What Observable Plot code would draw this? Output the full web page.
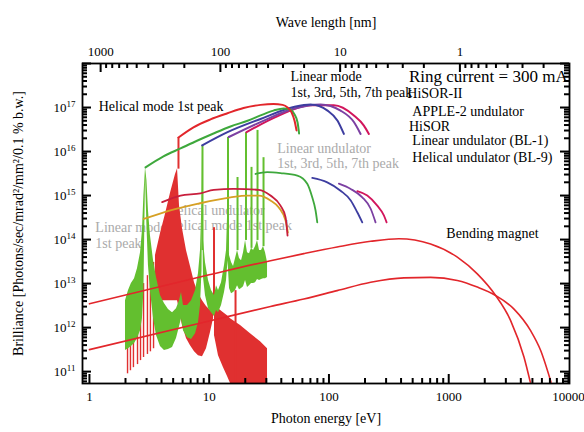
<!DOCTYPE html>
<html><head><meta charset="utf-8">
<script src="https://cdn.jsdelivr.net/npm/d3@7"></script>
<script src="https://cdn.jsdelivr.net/npm/@observablehq/plot@0.6"></script>
<style>body{margin:0;background:#fff;} #chart svg{display:block;}</style>
</head><body><div id="chart"></div>
<script>
// ---------- data (photon energy in eV, brilliance as log10) ----------
const hc = 1239.84; // eV*nm
// Bending magnet
const bmUpperE = [1, 10, 32.5, 61.7, 117, 223, 384, 706, 1180, 1733, 2464, 3289, 4250, 4800];
const bmUpperLog = [12.54, 13.20, 13.52, 13.68, 13.83, 13.96, 14.02, 13.90, 13.60, 13.22, 12.73, 12.16, 11.33, 10.76];
const bmLowerE = [1, 10, 32.5, 61.7, 117, 223, 423, 706, 1180, 1733, 2464, 3510, 4830, 5860, 7150];
const bmLowerLog = [11.50, 12.15, 12.48, 12.65, 12.84, 13.03, 13.13, 13.14, 13.07, 12.92, 12.73, 12.42, 11.93, 11.48, 10.76];
// HiSOR-II APPLE-2 undulator envelopes
const h2HelE = [5.54, 7.39, 10.25, 14.22, 19.35, 26.83, 34.4, 41.0, 45.1, 48.7, 51.6, 53.6];
const h2HelLog = [16.32, 16.55, 16.73, 16.87, 16.99, 17.06, 17.08, 17.06, 17.0, 16.89, 16.70, 16.48];
const h2Lin1E = [2.94, 4.15, 5.76, 7.99, 10.87, 15.07, 20.9, 26.83, 34.4, 41.8, 47.8, 51.6, 54.7, 56.3];
const h2Lin1Log = [15.64, 15.89, 16.07, 16.25, 16.41, 16.57, 16.70, 16.82, 16.93, 16.98, 16.95, 16.84, 16.66, 16.41];
const h2Lin3E = [8.74, 14.22, 26.83, 50.6, 70.2, 97.3, 118, 133.2];
const h2Lin3Log = [16.14, 16.44, 16.74, 17.01, 17.07, 16.93, 16.70, 16.40];
const h2Lin5E = [14.58, 26.83, 50.6, 85.1, 125, 161.5, 183.7];
const h2Lin5Log = [16.33, 16.67, 16.97, 17.07, 16.93, 16.67, 16.40];
const h2Lin7E = [20.5, 37.0, 70.2, 109.9, 161.5, 195.7, 215.4];
const h2Lin7Log = [16.44, 16.80, 17.05, 17.05, 16.82, 16.59, 16.40];
// HiSOR linear undulator (BL-1)
const bl1n1E = [24.37, 30.5, 39.4, 54.4, 65.9, 72.5, 77.3, 79.9];
const bl1n1Log = [15.49, 15.53, 15.51, 15.455, 15.27, 14.96, 14.66, 14.39];
const bl1n3E = [72.5, 96.8, 125, 152, 172.4, 189.8];
const bl1n3Log = [15.40, 15.30, 15.11, 14.89, 14.62, 14.39];
const bl1n5E = [121, 152, 189.8, 223, 245];
const bl1n5Log = [15.27, 15.15, 14.96, 14.70, 14.39];
const bl1n7E = [172.4, 208.9, 253.2, 287.5, 303];
const bl1n7Log = [15.10, 15.0, 14.77, 14.55, 14.39];
// HiSOR helical undulator (BL-9)
const bl9aE = [4.05, 5.76, 8.46, 10.93, 16.05, 25.97, 32.5, 39.4, 43.4, 45.1];
const bl9aLog = [14.85, 15.0, 15.05, 15.13, 15.15, 15.13, 15.0, 14.77, 14.51, 14.09];
const bl9bE = [2.84, 4.18, 7.94, 15.07, 20.8, 25.97, 32.5, 38.1, 43.4, 45.4];
const bl9bLog = [14.47, 14.62, 14.81, 14.96, 15.0, 15.0, 14.89, 14.73, 14.43, 14.16];
// Linear mode spectrum (band between lower and upper edge) and harmonic spikes
const linSpecE = [2.00, 2.12, 2.24, 2.38, 2.52, 2.67, 2.77, 2.85, 2.94, 3.02, 3.11, 3.23, 3.43, 3.63, 3.92, 4.23, 4.57, 4.94, 5.33, 5.65, 5.87, 6.10, 6.59, 7.12, 7.69, 8.14, 8.46, 8.71, 8.79, 8.96, 9.31, 9.87, 10.45, 11.07, 11.51, 11.96, 12.67, 13.42, 13.95, 14.36, 14.78, 15.36, 15.96, 16.59, 17.24, 17.91, 18.62, 19.35, 20.11, 20.89, 21.71, 22.56, 23.45, 24.37, 25.32, 26.32, 27.35, 28.42, 29.53, 30.69];
const linSpecLo = [11.48, 11.52, 11.57, 11.64, 11.75, 11.93, 12.20, 12.84, 15.45, 14.32, 13.41, 12.84, 12.20, 11.82, 11.57, 11.48, 11.50, 11.55, 11.75, 12.02, 12.20, 11.93, 11.77, 11.73, 11.86, 12.11, 12.50, 13.30, 14.89, 13.14, 12.73, 12.43, 12.34, 12.25, 12.39, 12.34, 12.50, 12.80, 13.07, 13.52, 12.89, 12.77, 12.80, 12.84, 12.95, 12.86, 12.89, 12.93, 13.07, 12.91, 12.95, 13.0, 13.0, 13.02, 13.09, 13.07, 13.09, 13.11, 13.11, 13.14];
const linSpecHi = [12.61, 12.84, 13.0, 13.11, 13.34, 13.70, 14.20, 15.0, 15.64, 15.34, 14.66, 14.09, 13.52, 13.14, 12.73, 12.55, 12.41, 12.34, 12.43, 12.61, 12.80, 12.50, 12.50, 12.61, 12.84, 13.23, 13.75, 14.89, 16.02, 13.98, 13.48, 13.07, 12.84, 12.73, 12.95, 12.84, 13.02, 13.41, 13.75, 14.89, 13.64, 13.48, 13.39, 13.57, 13.75, 13.57, 13.52, 13.70, 13.98, 13.70, 13.68, 13.80, 13.75, 13.84, 13.98, 13.75, 13.75, 13.84, 13.70, 13.48];
const linSpikeE = [8.79, 14.36, 17.24, 20.3, 22.56, 25.32, 28.42];
const linSpikeBase = [13.75, 13.75, 13.75, 13.98, 13.80, 13.98, 13.84];
const linSpikeTop = [16.14, 16.32, 15.41, 16.43, 15.64, 16.48, 15.86];
// Helical mode spectrum
const helCombE = [2.08, 2.20, 2.33, 2.52, 2.67, 2.83, 3.05, 3.23, 3.43];
const helCombLo = [10.95, 11.02, 11.09, 11.16, 11.25, 11.32, 11.39, 11.45, 11.52];
const helCombHi = [11.77, 12.05, 12.27, 12.50, 12.77, 13.0, 13.18, 13.34, 13.48];
const helMainE = [3.56, 3.92, 4.31, 4.75, 5.23, 5.44, 5.65, 5.98, 6.46, 6.98, 7.54, 8.14, 8.79, 9.49, 10.25, 10.87];
const helMainLo = [12.61, 12.61, 12.61, 12.61, 12.61, 12.61, 12.39, 12.05, 11.75, 11.59, 11.45, 11.36, 11.34, 11.52, 11.89, 12.20];
const helMainHi = [13.64, 14.14, 14.57, 15.05, 15.48, 15.61, 14.77, 14.25, 13.75, 13.39, 13.02, 12.77, 12.61, 12.48, 12.39, 12.34];
const helTailE = [11.07, 11.96, 13.17, 14.22, 15.07, 18.26, 22.13, 26.83, 30.69];
const helTailLo = [11.82, 11.36, 11.09, 10.89, 10.73, 10.73, 10.73, 10.73, 10.73];
const helTailHi = [12.50, 12.43, 12.34, 12.27, 12.20, 12.05, 11.86, 11.68, 11.52];
const helSpikeE = [5.54, 10.97, 16.59];
const helSpikeBase = [15.6, 12.27, 10.73];
const helSpikeTop = [16.32, 14.27, 12.84];
// tick values
const xMajor = [1, 10, 100, 1000, 10000];
const waveMajor = [1000, 100, 10, 1];
const yMajor = [1e11, 1e12, 1e13, 1e14, 1e15, 1e16, 1e17, 1e18];

// ---------- tables ----------
const line = (E, L) => E.map((e, i) => ({E: e, B: 10 ** L[i]}));
const band = (E, lo, hi) => E.map((e, i) => ({E: e, lo: 10 ** lo[i], hi: 10 ** hi[i]}));
const xMinor = [], waveMinor = [], yMinor = [];
for (const d of [1, 10, 100, 1000]) for (let k = 2; k < 10; k++) xMinor.push(d * k);
for (const d of [100, 10, 1, 0.1]) for (let k = 2; k < 10; k++) waveMinor.push(d * k);
for (let p = 10; p < 18; p++) for (let k = 2; k < 10; k++) { const v = k * 10 ** p; if (v > 5.5e10) yMinor.push(v); }

const W = 584, H = 432, ML = 82, MR = 15, MT = 63, MB = 49;
const FW = W - ML - MR, FH = H - MT - MB;
const xDom = [0.875, 10200], yDom = [5.37e10, 1e18];
const RED = "#e2262b", GREEN = "#3ea83c", SPECG = "#63bf2f", GRAY = "#aaaaaa";
const lineOpts = (stroke, w = 2) => ({x: "E", y: "B", stroke, strokeWidth: w, curve: "monotone-x"});
const ann = (t, E, L, o = {}) => Plot.text([t], {x: () => E, y: () => 10 ** L, text: d => d, textAnchor: "start", fontSize: 13, fill: "#000", ...o});
const waveMajorE = waveMajor.map(l => hc / l), waveMinorE = waveMinor.map(l => hc / l);
const tk = {stroke: "#000", strokeWidth: 2, strokeOpacity: 1};

const chart = Plot.plot({
  width: W, height: H,
  marginLeft: ML, marginRight: MR, marginTop: MT, marginBottom: MB,
  style: {fontFamily: "'Liberation Serif', serif", fontSize: "13px", background: "#fff", color: "#000"},
  x: {type: "log", domain: xDom},
  y: {type: "log", domain: yDom},
  marks: [
    // gray annotations (behind spectra)
    ann("Linear undulator", 37.0, 16.06, {fill: GRAY, fontSize: 14}),
    ann("1st, 3rd, 5th, 7th peak", 37.0, 15.72, {fill: GRAY, fontSize: 14}),
    ann("Helical undulator", 4.46, 14.66, {fill: GRAY, fontSize: 14}),
    ann("Helical mode 1st peak", 4.46, 14.32, {fill: GRAY, fontSize: 14}),
    ann("Linear mode", 1.12, 14.28, {fill: GRAY, fontSize: 14}),
    ann("1st peak", 1.12, 13.90, {fill: GRAY, fontSize: 14}),
    // helical mode spectrum (red)
    Plot.ruleX(band(helCombE, helCombLo, helCombHi), {x: "E", y1: "lo", y2: "hi", stroke: "#e03030", strokeWidth: 1.4}),
    Plot.areaY(band(helMainE, helMainLo, helMainHi), {x: "E", y1: "lo", y2: "hi", fill: "#e03030"}),
    Plot.areaY(band(helTailE, helTailLo, helTailHi), {x: "E", y1: "lo", y2: "hi", fill: "#e03030"}),
    Plot.ruleX(band(helSpikeE, helSpikeBase, helSpikeTop), {x: "E", y1: "lo", y2: "hi", stroke: "#e03030", strokeWidth: 2}),
    // linear mode spectrum (green)
    Plot.areaY(band(linSpecE, linSpecLo, linSpecHi), {x: "E", y1: "lo", y2: "hi", fill: SPECG}),
    Plot.ruleX(band(linSpikeE, linSpikeBase, linSpikeTop), {x: "E", y1: "lo", y2: "hi", stroke: SPECG, strokeWidth: 2}),
    // HiSOR helical BL-9
    Plot.line(line(bl9bE, bl9bLog), lineOpts("#d6a024", 1.8)),
    Plot.line(line(bl9aE, bl9aLog), lineOpts("#c81e3c", 1.8)),
    // HiSOR linear BL-1
    Plot.line(line(bl1n1E, bl1n1Log), lineOpts(GREEN, 1.8)),
    Plot.line(line(bl1n3E, bl1n3Log), lineOpts("#3d3da0", 1.8)),
    Plot.line(line(bl1n5E, bl1n5Log), lineOpts("#7c40a2", 1.8)),
    Plot.line(line(bl1n7E, bl1n7Log), lineOpts("#d2155c", 1.8)),
    // HiSOR-II APPLE-2 envelopes
    Plot.line(line(h2Lin7E, h2Lin7Log), lineOpts("#d2155c")),
    Plot.line(line(h2Lin5E, h2Lin5Log), lineOpts("#7c40a2")),
    Plot.line(line(h2Lin3E, h2Lin3Log), lineOpts("#3d3da0")),
    Plot.line(line(h2Lin1E, h2Lin1Log), lineOpts(GREEN)),
    Plot.line(line(h2HelE, h2HelLog), lineOpts(RED)),
    // bending magnets
    Plot.line(line(bmUpperE, bmUpperLog), lineOpts(RED, 1.6)),
    Plot.line(line(bmLowerE, bmLowerLog), lineOpts(RED, 1.6)),
    // black annotations
    ann("Helical mode 1st peak", 1.196, 17.02, {fontSize: 14}),
    ann("Linear mode", 47.8, 17.70, {fontSize: 14}),
    ann("1st, 3rd, 5th, 7th peak", 47.8, 17.35, {fontSize: 14}),
    ann("Ring current = 300 mA", 465, 17.70, {fontSize: 17}),
    ann("HiSOR-II", 451, 17.31, {fontSize: 14}),
    ann("APPLE-2 undulator", 497, 16.92, {fontSize: 14}),
    ann("HiSOR", 465, 16.575, {fontSize: 14}),
    ann("Linear undulator (BL-1)", 497, 16.25, {fontSize: 14}),
    ann("Helical undulator (BL-9)", 497, 15.87, {fontSize: 14}),
    ann("Bending magnet", 956, 14.13, {fontSize: 14}),
    // inward ticks: tick marks inset to a short stub along each frame edge
    Plot.tickX(xMajor, {x: d => d, insetTop: FH - 9, ...tk}),
    Plot.tickX(xMinor, {x: d => d, insetTop: FH - 5, ...tk}),
    Plot.tickX(waveMajorE, {x: d => d, insetBottom: FH - 9, ...tk}),
    Plot.tickX(waveMinorE, {x: d => d, insetBottom: FH - 5, ...tk}),
    Plot.tickY(yMajor, {y: d => d, insetRight: FW - 9, ...tk}),
    Plot.tickY(yMinor, {y: d => d, insetRight: FW - 5, ...tk}),
    Plot.tickY(yMajor, {y: d => d, insetLeft: FW - 9, ...tk}),
    Plot.tickY(yMinor, {y: d => d, insetLeft: FW - 5, ...tk}),
    // tick labels
    Plot.axisX({anchor: "bottom", ticks: xMajor, tickSize: 0, tickPadding: 8, tickFormat: d => String(d), label: null, fontSize: 13}),
    Plot.axisX({anchor: "top", ticks: waveMajorE, tickSize: 0, tickPadding: 8, tickFormat: e => String(Math.round(hc / e)), label: null, fontSize: 13}),
    Plot.axisY({anchor: "left", ticks: yMajor.slice(0, 7), tickSize: 0, tickPadding: 7, tickFormat: d => "10^" + Math.round(Math.log10(d)), label: null, fontSize: 13}),
    Plot.axisY({anchor: "left", ticks: [1e14], tickSize: 0, tickFormat: () => "", label: "Brilliance [Photons/sec/mrad\u00b2/mm\u00b2/0.1 % b.w.]", labelAnchor: "center", labelOffset: 69, labelArrow: "none", fontSize: 14}),
    Plot.frame({stroke: "#000", strokeWidth: 1.8}),
    // axis titles
    Plot.text(["Wave length [nm]"], {frameAnchor: "top", dy: -46, fontSize: 14}),
    Plot.text(["Photon energy [eV]"], {frameAnchor: "bottom", dy: 39, fontSize: 14})
  ]
});

// superscript exponents on y tick labels
chart.querySelectorAll('[aria-label="y-axis tick label"] text').forEach(t => {
  const m = (t.textContent || "").match(/^10\^(\d+)$/);
  if (!m) return;
  t.textContent = "10";
  const ts = document.createElementNS("http://www.w3.org/2000/svg", "tspan");
  ts.setAttribute("dy", "-0.55em");
  ts.setAttribute("font-size", "9");
  ts.textContent = m[1];
  t.appendChild(ts);
});
document.getElementById("chart").appendChild(chart);
</script></body></html>
